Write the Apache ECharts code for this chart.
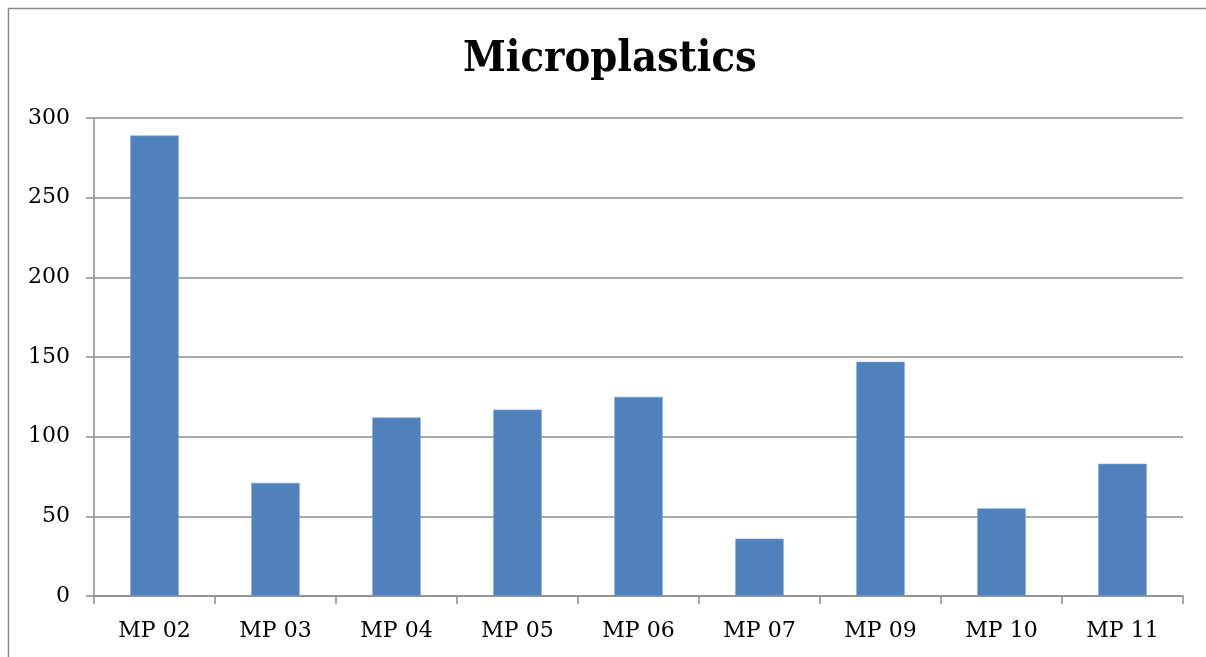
<!DOCTYPE html>
<html>
<head>
<meta charset="utf-8">
<script src="https://cdn.jsdelivr.net/npm/echarts@6/dist/echarts.min.js"></script>
<style>
  html, body { margin: 0; padding: 0; background: #ffffff; }
  #chart { width: 1206px; height: 657px; }
</style>
</head>
<body>
<div id="chart"></div>
<script>
// Sampling sites and microplastic counts
const categories = ['MP 02', 'MP 03', 'MP 04', 'MP 05', 'MP 06', 'MP 07', 'MP 09', 'MP 10', 'MP 11'];
const counts = [289, 71, 112, 117, 125, 36, 147, 55, 83];
const yTicks = { min: 0, max: 300, interval: 50 };
const titleText = 'Microplastics';

const chart = echarts.init(document.getElementById('chart'), null, { renderer: 'canvas' });

const serif = '"DejaVu Serif", "Liberation Serif", serif';
const gridColor = '#8c8c8c';

chart.setOption({
  animation: false,
  backgroundColor: '#ffffff',
  graphic: [{
    type: 'rect',
    shape: { x: 8.5, y: 8.5, width: 1230, height: 700 },
    style: { fill: 'none', stroke: '#8a8a8a', lineWidth: 1.5 },
    silent: true
  }],
  title: {
    text: titleText,
    left: 458,
    top: 33,
    textStyle: {
      fontFamily: '"DejaVu Serif Condensed", "DejaVu Serif", serif',
      fontWeight: 'bold',
      fontSize: 43,
      color: '#000000'
    }
  },
  grid: { left: 94, right: 23, top: 118, bottom: 61, containLabel: false },
  xAxis: {
    type: 'category',
    data: categories,
    axisLine: { show: true, lineStyle: { color: gridColor, width: 1.5 } },
    axisTick: { show: true, length: 8, alignWithLabel: false, lineStyle: { color: gridColor, width: 1.5 } },
    axisLabel: { margin: 24, fontFamily: serif, fontSize: 22, color: '#000000' },
    splitLine: { show: false }
  },
  yAxis: {
    type: 'value',
    min: yTicks.min,
    max: yTicks.max,
    interval: yTicks.interval,
    axisLine: { show: true, lineStyle: { color: gridColor, width: 1.5 } },
    axisTick: { show: true, length: 8, lineStyle: { color: gridColor, width: 1.5 } },
    axisLabel: { margin: 24, fontFamily: serif, fontSize: 22, color: '#000000' },
    splitLine: { show: true, lineStyle: { color: gridColor, width: 1.5 } }
  },
  series: [{
    type: 'bar',
    data: counts,
    barWidth: '40%',
    itemStyle: { color: '#4f81bd', borderColor: '#7ea3d2', borderWidth: 0.6 }
  }]
});
</script>
</body>
</html>
